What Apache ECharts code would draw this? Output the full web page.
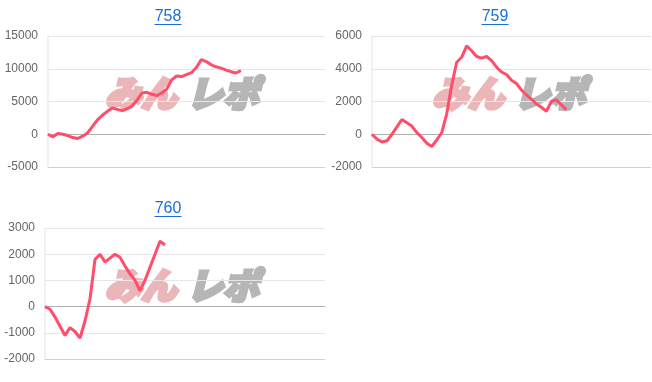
<!DOCTYPE html>
<html>
<head>
<meta charset="utf-8">
<script src="https://cdn.jsdelivr.net/npm/echarts@6/dist/echarts.min.js"></script>
<style>
html,body{margin:0;padding:0;background:#fff;}
#chart{width:652px;height:382px;}
</style>
</head>
<body>
<div id="chart"></div>
<script>
// x slots (hidden category axis)
const categories = [1,2,3,4,5,6,7,8,9,10,11,12,13,14,15,16,17,18,19,20,21,22,23,24,25,26,27,28,29,30,31,32,33,34,35,36,37,38,39,40,41,42,43,44,45,46,47,48,49,50,51,52,53,54,55,56,57];

const titles = ['758', '759', '760'];

const values758 = [0,-400,100,0,-200,-500,-650,-300,200,1200,2200,2900,3500,4000,3800,3600,3900,4300,5200,6300,6400,6100,5900,6300,6900,8300,8900,8800,9100,9400,10200,11400,11100,10600,10300,10100,9800,9550,9350,9700];
const values759 = [0,-300,-470,-400,0,450,900,700,500,100,-200,-550,-750,-350,100,1250,3000,4400,4700,5400,5100,4750,4650,4750,4500,4100,3800,3650,3300,3100,2700,2400,2150,1850,1650,1400,2000,2100,1800,1500];
const values760 = [0,-100,-400,-750,-1100,-800,-950,-1200,-550,300,1800,2000,1700,1850,2000,1880,1550,1250,1000,600,1000,1500,2000,2500,2350];

const yTicks758 = [-5000, 0, 5000, 10000, 15000];
const yTicks759 = [-2000, 0, 2000, 4000, 6000];
const yTicks760 = [-2000, -1000, 0, 1000, 2000, 3000];

const seriesValues = [values758, values759, values760];
const yTickSets = [yTicks758, yTicks759, yTicks760];

const grids = [
  {left: 48, top: 36, width: 277, height: 131},
  {left: 372, top: 36, width: 279, height: 131},
  {left: 45, top: 228, width: 280, height: 131}
];
const titleCenters = [[168, 9], [495, 9], [168, 201]];
const logoPos = [[105, 75], [432, 75], [105, 267]];

const LINK = '#1a6ed6';
const LINE = '#ff4d6b';

const chart = echarts.init(document.getElementById('chart'));

const graphic = [];
titles.forEach((t, k) => {
  const [cx, ty] = titleCenters[k];
  graphic.push({type: 'rect', shape: {x: cx - 13.5, y: ty + 15, width: 27, height: 1}, style: {fill: LINK}, z: 10});
  const [lx, ly] = logoPos[k];
  graphic.push({type: 'text', x: lx, y: ly, z: 0, silent: true,
    style: {text: 'みん', fill: '#eab6b9', stroke: '#eab6b9', lineWidth: 3.5, font: 'italic 900 36px "Noto Sans CJK JP"'}});
  graphic.push({type: 'text', x: lx + 82, y: ly, z: 0, silent: true,
    style: {text: 'レポ', fill: '#b6b6b6', stroke: '#b6b6b6', lineWidth: 3.5, font: 'italic 900 36px "Noto Sans CJK JP"'}});
});

const option = {
  animation: false,
  title: titles.map((t, k) => ({
    text: t, left: titleCenters[k][0], top: titleCenters[k][1], textAlign: 'center', padding: 0,
    textStyle: {color: LINK, fontSize: 16, fontWeight: 'normal', fontFamily: 'Liberation Sans, Arial, sans-serif'}
  })),
  grid: grids,
  xAxis: grids.map((g, k) => ({
    type: 'category', gridIndex: k, data: categories, boundaryGap: false,
    axisLine: {show: true, onZero: true, lineStyle: {color: '#b0b0b0', width: 1}},
    axisTick: {show: false}, axisLabel: {show: false}, splitLine: {show: false}
  })),
  yAxis: yTickSets.map((ticks, k) => ({
    type: 'value', gridIndex: k,
    min: ticks[0], max: ticks[ticks.length - 1], interval: ticks[1] - ticks[0],
    axisLine: {show: true, lineStyle: {color: '#ececec', width: 1.5}},
    axisTick: {show: false},
    axisLabel: {color: '#666', fontSize: 12, margin: 10, fontFamily: 'Liberation Sans, Arial, sans-serif',
      formatter: v => String(v)},
    splitLine: {show: true, lineStyle: {color: ['#cfcfcf', '#e6e6e6', '#e6e6e6', '#e6e6e6', '#e6e6e6', '#e6e6e6']}}
  })),
  series: seriesValues.map((vals, k) => ({
    type: 'line', xAxisIndex: k, yAxisIndex: k, data: vals,
    showSymbol: false, symbol: 'none', z: 5,
    lineStyle: {color: LINE, width: 3}
  })),
  graphic: graphic
};
chart.setOption(option);
</script>
</body>
</html>
